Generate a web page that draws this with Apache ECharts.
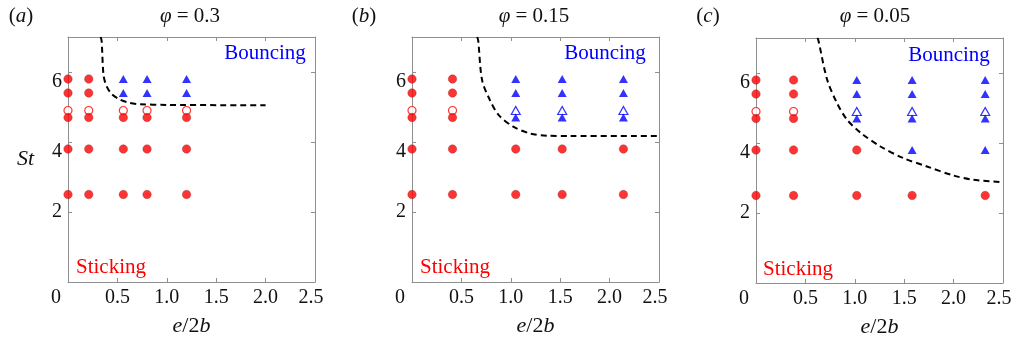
<!DOCTYPE html>
<html>
<head>
<meta charset="utf-8">
<script src="https://cdn.jsdelivr.net/npm/echarts@6/dist/echarts.min.js"></script>
<style>
html,body{margin:0;padding:0;background:#fff;}
#chart{width:1025px;height:348px;}
</style>
</head>
<body>
<div id="chart"></div>
<script>
// ---------- data ----------
const xTickLabels = ['0', '0.5', '1.0', '1.5', '2.0', '2.5'];
const yTickLabels = [2, 4, 6];
const panelLetters = ['a', 'b', 'c'];
const phiValues = ['0.3', '0.15', '0.05'];

// Panel (a) phi = 0.3
const stickFilledA = [[0,5.8],[0,5.4],[0,4.7],[0,3.8],[0,2.5],
  [0.21,5.8],[0.21,5.4],[0.21,4.7],[0.21,3.8],[0.21,2.5],
  [0.56,4.7],[0.56,3.8],[0.56,2.5],[0.80,4.7],[0.80,3.8],[0.80,2.5],
  [1.20,4.7],[1.20,3.8],[1.20,2.5]];
const stickOpenA = [[0,4.9],[0.21,4.9],[0.56,4.9],[0.80,4.9],[1.20,4.9]];
const bounceFilledA = [[0.56,5.8],[0.56,5.4],[0.80,5.8],[0.80,5.4],[1.20,5.8],[1.20,5.4]];
const bounceOpenA = [];
const boundaryA = [[0.33,7.0],[0.34,6.9],[0.36,5.9],[0.39,5.6],[0.44,5.38],[0.52,5.22],[0.62,5.12],[0.73,5.08],[1.0,5.06],[2.0,5.05]];

// Panel (b) phi = 0.15
const stickFilledB = [[0,5.8],[0,5.4],[0,4.7],[0,3.8],[0,2.5],
  [0.41,5.8],[0.41,5.4],[0.41,4.7],[0.41,3.8],[0.41,2.5],
  [1.05,3.8],[1.05,2.5],[1.52,3.8],[1.52,2.5],[2.14,3.8],[2.14,2.5]];
const stickOpenB = [[0,4.9],[0.41,4.9]];
const bounceFilledB = [[1.05,5.8],[1.05,5.4],[1.05,4.7],[1.52,5.8],[1.52,5.4],[1.52,4.7],[2.14,5.8],[2.14,5.4],[2.14,4.7]];
const bounceOpenB = [[1.05,4.9],[1.52,4.9],[2.14,4.9]];
const boundaryB = [[0.66,7.0],[0.67,6.9],[0.71,5.76],[0.79,5.19],[0.88,4.76],[1.03,4.43],[1.20,4.24],[1.37,4.18],[1.6,4.17],[2.5,4.17]];

// Panel (c) phi = 0.05
const stickFilledC = [[0,5.8],[0,5.4],[0,4.7],[0,3.8],[0,2.5],
  [0.38,5.8],[0.38,5.4],[0.38,4.7],[0.38,3.8],[0.38,2.5],
  [1.02,3.8],[1.02,2.5],[1.58,2.5],[2.32,2.5]];
const stickOpenC = [[0,4.9],[0.38,4.9]];
const bounceFilledC = [[1.02,5.8],[1.02,5.4],[1.02,4.7],[1.58,5.8],[1.58,5.4],[1.58,4.7],[1.58,3.8],[2.32,5.8],[2.32,5.4],[2.32,4.7],[2.32,3.8]];
const bounceOpenC = [[1.02,4.9],[1.58,4.9],[2.32,4.9]];
const boundaryC = [[0.62,7.0],[0.63,6.95],[0.72,5.81],[0.82,5.14],[0.92,4.67],[1.06,4.29],[1.26,3.90],[1.49,3.57],[1.73,3.33],[2.0,3.07],[2.2,2.95],[2.5,2.88]];

// ---------- layout / style ----------
const SERIF = '"Liberation Serif", "Times New Roman", serif';
const RED = '#ff0000', BLUE = '#0000ff', AXIS = '#8f8f8f';
const grids = [
  {left: 68, right: 710, top: 37, bottom: 66},
  {left: 412, right: 366, top: 37, bottom: 66},
  {left: 756, right: 22, top: 38, bottom: 65}
];
const panels = [
  {sf: stickFilledA, so: stickOpenA, bf: bounceFilledA, bo: bounceOpenA, line: boundaryA},
  {sf: stickFilledB, so: stickOpenB, bf: bounceFilledB, bo: bounceOpenB, line: boundaryB},
  {sf: stickFilledC, so: stickOpenC, bf: bounceFilledC, bo: bounceOpenC, line: boundaryC}
];

const tickFont = {fontFamily: SERIF, fontSize: 20, color: '#111'};
function xFmt(v) {
  const i = Math.round(v / 0.5);
  const s = xTickLabels[i];
  if (s === undefined || Math.abs(v - i * 0.5) > 1e-6) return '';
  if (i === 0) return '{z|' + s + '}';
  if (i === xTickLabels.length - 1) return '{e|' + s + '}';
  return '{n|' + s + '}';
}
function yFmt(v) {
  if (yTickLabels.indexOf(v) < 0) return '';
  if (v === 2) return '{n|' + v + '}';
  return '{d|' + v + '}';
}

const lineCommon = {show: true, onZero: false, lineStyle: {color: AXIS, width: 1}};
const tickCommon = {show: true, inside: true, length: 4, lineStyle: {color: AXIS}};

const xAxes = [], yAxes = [], series = [];
grids.forEach((g, k) => {
  xAxes.push({
    gridIndex: k, type: 'value', min: 0, max: 2.5, interval: 0.5, position: 'bottom',
    axisLine: lineCommon, axisTick: tickCommon, splitLine: {show: false},
    axisLabel: {margin: 6, formatter: xFmt, fontFamily: SERIF, fontSize: 20, rich: {
      n: Object.assign({}, tickFont),
      z: Object.assign({padding: [0, 24, 0, 0]}, tickFont),
      e: Object.assign({padding: [0, 8, 0, 0]}, tickFont)
    }},
    name: '{i|e}/2{i|b}', nameLocation: 'middle', nameGap: 33,
    nameTextStyle: {fontFamily: SERIF, fontSize: 22, color: '#111',
      rich: {i: {fontFamily: SERIF, fontSize: 22, fontStyle: 'italic', color: '#111'}}}
  });
  xAxes.push({
    gridIndex: k, type: 'value', min: 0, max: 2.5, interval: 0.5, position: 'top',
    axisLine: lineCommon, axisTick: tickCommon, splitLine: {show: false}, axisLabel: {show: false}
  });
  yAxes.push({
    gridIndex: k, type: 'value', min: 0, max: 7, interval: 2, position: 'left',
    axisLine: lineCommon, axisTick: tickCommon, splitLine: {show: false},
    axisLabel: {margin: 6, formatter: yFmt, fontFamily: SERIF, fontSize: 20, rich: {
      n: Object.assign({}, tickFont),
      d: Object.assign({padding: [20, 0, 0, 0]}, tickFont)
    }},
    name: k === 0 ? 'St' : '', nameLocation: 'middle', nameRotate: 0, nameGap: 34,
    nameTextStyle: {fontFamily: SERIF, fontSize: 22, fontStyle: 'italic', color: '#111'}
  });
  yAxes.push({
    gridIndex: k, type: 'value', min: 0, max: 7, interval: 2, position: 'right',
    axisLine: lineCommon, axisTick: tickCommon, splitLine: {show: false}, axisLabel: {show: false}
  });
  const p = panels[k];
  const xi = 2 * k, yi = 2 * k;
  series.push({
    type: 'line', xAxisIndex: xi, yAxisIndex: yi, data: p.line, smooth: 0.3,
    showSymbol: false, symbol: 'none', silent: true, z: 2,
    lineStyle: {color: '#000', width: 2, type: [6, 4]}
  });
  series.push({
    type: 'scatter', xAxisIndex: xi, yAxisIndex: yi, data: p.so, symbol: 'circle', symbolSize: 8,
    itemStyle: {color: '#fff', borderColor: RED, borderWidth: 1.2}, z: 3, clip: false
  });
  series.push({
    type: 'scatter', xAxisIndex: xi, yAxisIndex: yi, data: p.bo, symbol: 'triangle', symbolSize: [9, 8],
    itemStyle: {color: '#fff', borderColor: BLUE, borderWidth: 1.2}, z: 3, clip: false
  });
  series.push({
    type: 'scatter', xAxisIndex: xi, yAxisIndex: yi, data: p.sf, symbol: 'circle', symbolSize: 8.5,
    itemStyle: {color: RED, borderColor: '#7a2020', borderWidth: 0.4}, z: 4, clip: false
  });
  series.push({
    type: 'scatter', xAxisIndex: xi, yAxisIndex: yi, data: p.bf, symbol: 'triangle', symbolSize: [9, 8],
    itemStyle: {color: BLUE}, z: 4, clip: false
  });
});

// annotations
const letterPos = [[21, 16], [364, 16], [708, 16]];
const phiPos = [[190, 16], [534, 16], [875, 16]];
const bouncePos = [[265, 53], [605, 53], [949, 55]];
const stickPos = [[111, 267], [455, 267], [798, 269]];
const graphic = [];
for (let k = 0; k < 3; k++) {
  graphic.push({type: 'text', x: letterPos[k][0], y: letterPos[k][1], silent: true, style: {
    text: '({i|' + panelLetters[k] + '})', align: 'center', verticalAlign: 'middle',
    fontFamily: SERIF, fontSize: 21, fill: '#111',
    rich: {i: {fontFamily: SERIF, fontSize: 21, fontStyle: 'italic', fill: '#111'}}
  }});
  graphic.push({type: 'text', x: phiPos[k][0], y: phiPos[k][1], silent: true, style: {
    text: '{i|φ} = ' + phiValues[k], align: 'center', verticalAlign: 'middle',
    fontFamily: SERIF, fontSize: 21, fill: '#111',
    rich: {i: {fontFamily: SERIF, fontSize: 21, fontStyle: 'italic', fill: '#111'}}
  }});
  graphic.push({type: 'text', x: bouncePos[k][0], y: bouncePos[k][1], silent: true, style: {
    text: 'Bouncing', align: 'center', verticalAlign: 'middle',
    fontFamily: SERIF, fontSize: 21, fill: BLUE
  }});
  graphic.push({type: 'text', x: stickPos[k][0], y: stickPos[k][1], silent: true, style: {
    text: 'Sticking', align: 'center', verticalAlign: 'middle',
    fontFamily: SERIF, fontSize: 21, fill: RED
  }});
}

const chart = echarts.init(document.getElementById('chart'), null, {renderer: 'canvas'});
chart.setOption({
  animation: false,
  backgroundColor: '#fff',
  grid: grids.map(g => Object.assign({show: false}, g)),
  xAxis: xAxes,
  yAxis: yAxes,
  series: series,
  graphic: graphic
});
</script>
</body>
</html>
